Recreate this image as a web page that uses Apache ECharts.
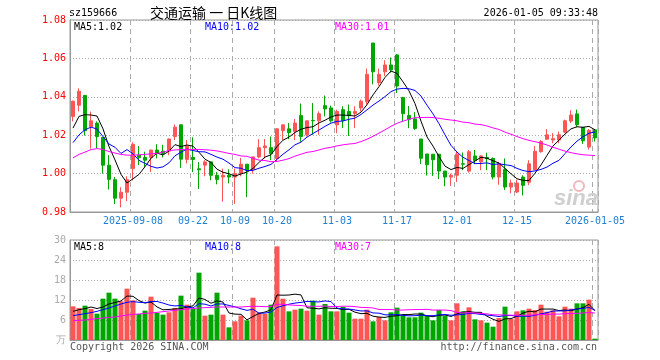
<!DOCTYPE html>
<html><head><meta charset="utf-8">
<script src="https://cdn.jsdelivr.net/npm/echarts@6/dist/echarts.min.js"></script>
<style>html,body{margin:0;padding:0;background:#fff}#c{width:660px;height:360px}</style>
</head><body><div id="c"></div>
<script>
const dates = [
'2025-08-25','2025-08-26','2025-08-27','2025-08-28','2025-08-29',
'2025-09-01','2025-09-02','2025-09-03','2025-09-04','2025-09-05',
'2025-09-08','2025-09-09','2025-09-10','2025-09-11','2025-09-12',
'2025-09-15','2025-09-16','2025-09-17','2025-09-18','2025-09-19',
'2025-09-22','2025-09-23','2025-09-24','2025-09-25','2025-09-26',
'2025-09-29','2025-09-30',
'2025-10-09','2025-10-10',
'2025-10-13','2025-10-14','2025-10-15','2025-10-16','2025-10-17',
'2025-10-20','2025-10-21','2025-10-22','2025-10-23','2025-10-24',
'2025-10-27','2025-10-28','2025-10-29','2025-10-30','2025-10-31',
'2025-11-03','2025-11-04','2025-11-05','2025-11-06','2025-11-07',
'2025-11-10','2025-11-11','2025-11-12','2025-11-13','2025-11-14',
'2025-11-17','2025-11-18','2025-11-19','2025-11-20','2025-11-21',
'2025-11-24','2025-11-25','2025-11-26','2025-11-27','2025-11-28',
'2025-12-01','2025-12-02','2025-12-03','2025-12-04','2025-12-05',
'2025-12-08','2025-12-09','2025-12-10','2025-12-11','2025-12-12',
'2025-12-15','2025-12-16','2025-12-17','2025-12-18','2025-12-19',
'2025-12-22','2025-12-23','2025-12-24','2025-12-25','2025-12-26',
'2025-12-29','2025-12-30','2025-12-31',
'2026-01-05'];

const opens = [
1.0298,1.0356,1.0407,1.0244,1.0263,1.0189,1.0044,0.9968,0.9872,0.9903,
1.0026,1.0096,1.0084,1.0084,1.0123,1.0117,1.0117,1.0193,1.0254,1.0074,
1.0084,1.0025,1.0044,1.0061,0.9991,0.9982,0.9991,0.9982,1.0000,1.0049,
1.0023,1.0087,1.0135,1.0135,1.0079,1.0224,1.0233,1.0219,1.0302,1.0202,
1.0277,1.0275,1.0354,1.0342,1.0254,1.0333,1.0324,1.0312,1.0342,1.0374,
1.0680,1.0474,1.0530,1.0566,1.0618,1.0396,1.0303,1.0285,1.0180,1.0102,
1.0101,1.0101,1.0013,0.9982,0.9991,1.0051,1.0013,1.0092,1.0061,1.0084,
1.0079,0.9982,1.0022,0.9930,0.9904,0.9982,0.9955,1.0020,1.0114,1.0179,
1.0175,1.0175,1.0216,1.0274,1.0311,1.0241,1.0138,1.0228];
const closes = [
1.0377,1.0429,1.0224,1.0275,1.0193,1.0044,0.9970,0.9872,0.9903,0.9968,
1.0153,1.0084,1.0070,1.0123,1.0105,1.0105,1.0180,1.0242,1.0075,1.0144,
1.0074,1.0020,1.0061,0.9991,0.9970,0.9991,0.9982,1.0000,1.0049,1.0017,
1.0087,1.0135,1.0144,1.0105,1.0233,1.0254,1.0214,1.0263,1.0193,1.0275,
1.0275,1.0312,1.0337,1.0275,1.0324,1.0275,1.0302,1.0324,1.0377,1.0517,
1.0530,1.0517,1.0566,1.0540,1.0456,1.0312,1.0283,1.0235,1.0080,1.0046,
1.0072,1.0013,0.9982,0.9991,1.0101,1.0049,1.0114,1.0068,1.0092,1.0078,
0.9982,1.0053,0.9930,0.9951,0.9951,0.9939,1.0051,1.0116,1.0167,1.0202,
1.0182,1.0202,1.0275,1.0305,1.0254,1.0171,1.0224,1.0186];
const lows = [
1.0272,1.0324,1.0198,1.0130,1.0132,1.0000,0.9917,0.9842,0.9824,0.9856,
0.9965,1.0044,1.0035,1.0008,1.0079,1.0084,1.0096,1.0175,1.0030,1.0053,
1.0008,0.9920,0.9986,0.9965,0.9944,0.9854,0.9949,0.9842,0.9986,0.9877,
1.0000,1.0079,1.0079,1.0070,1.0061,1.0175,1.0179,1.0175,1.0166,1.0193,
1.0202,1.0202,1.0298,1.0266,1.0211,1.0237,1.0196,1.0237,1.0324,1.0359,
1.0465,1.0459,1.0508,1.0526,1.0420,1.0270,1.0237,1.0228,1.0050,0.9990,
0.9988,0.9972,0.9934,0.9936,0.9956,1.0018,1.0005,1.0049,1.0018,1.0018,
0.9970,0.9942,0.9915,0.9898,0.9898,0.9886,0.9940,1.0018,1.0109,1.0175,
1.0158,1.0158,1.0211,1.0263,1.0242,1.0155,1.0125,1.0167];
const highs = [
1.0380,1.0444,1.0410,1.0323,1.0272,1.0190,1.0096,0.9982,0.9929,0.9986,
1.0163,1.0144,1.0114,1.0123,1.0153,1.0150,1.0182,1.0256,1.0256,1.0175,
1.0189,1.0060,1.0070,1.0061,1.0008,1.0026,1.0022,1.0026,1.0082,1.0049,
1.0087,1.0179,1.0180,1.0193,1.0237,1.0254,1.0263,1.0284,1.0365,1.0275,
1.0368,1.0324,1.0407,1.0354,1.0333,1.0351,1.0360,1.0351,1.0386,1.0547,
1.0680,1.0547,1.0590,1.0605,1.0623,1.0400,1.0352,1.0320,1.0180,1.0102,
1.0101,1.0101,1.0013,1.0000,1.0118,1.0110,1.0123,1.0123,1.0096,1.0109,
1.0084,1.0061,1.0079,0.9968,0.9968,0.9991,1.0070,1.0144,1.0175,1.0232,
1.0211,1.0219,1.0281,1.0330,1.0333,1.0241,1.0232,1.0228];
// volume, 万
const volumes = [
10.1,9.6,10.3,9.3,7.9,12.4,14.2,12.4,11.6,15.4,
11.9,7.8,8.8,13.0,8.1,7.6,8.3,9.6,13.3,10.6,
9.4,20.2,7.3,7.6,14.2,7.6,3.8,5.6,7.3,5.9,
12.7,8.3,7.8,10.6,28.1,12.4,8.6,9.1,9.4,8.8,
11.8,7.6,10.8,8.6,8.6,9.9,8.2,6.4,6.4,9.1,
5.6,6.9,5.9,8.3,9.7,7.4,6.8,6.8,8.2,7.2,
5.9,9.0,7.3,5.9,11.0,8.6,9.8,6.2,5.9,5.2,
4.0,6.6,10.0,6.3,8.6,8.9,9.4,9.0,10.6,8.5,
8.9,7.1,10.0,9.4,11.0,11.0,12.1,0.4];

const ma5Head = [1.0237,1.0298,1.0307,1.0305];
const ma10Head = [1.0161,1.0202,1.0228,1.0242,1.0232,1.0193,1.0154,1.0137,1.0105];
const ma30Head = [1.0082,1.0100,1.0112,1.0125,1.0130,1.0126,1.0115,1.0107,1.0100,1.0096,
1.0096,1.0098,1.0100,1.0103,1.0105,1.0112,1.0120,1.0123,1.0125,1.0125,
1.0126,1.0126,1.0124,1.0122,1.0118,1.0112,1.0105,1.0100,1.0092];
const vma5Head = [8.6,9.1,9.4,9.9];
const vma10Head = [7.3,7.6,7.9,8.2,8.6,9.1,9.6,10.2,10.8];
const vma30Head = [5.8,5.9,6.0,6.2,6.4,6.6,6.8,6.9,7.2,7.5,7.7,7.8,8.0,8.1,8.3,8.5,8.7,8.9,9.1,9.3,
9.4,9.6,9.7,9.8,9.9,9.9,9.9,9.9,9.9];
// legend read-outs of the volume panel, as printed
const volLegendValues = ['8','8','7'];

const tickDates = ['2025-09-08','2025-09-22','2025-10-09','2025-10-20','2025-11-03','2025-11-17','2025-12-01','2025-12-15','2026-01-05'];
const tickLabels = ['2025-09-08','09-22','10-09','10-20','11-03','11-17','12-01','12-15','2026-01-05'];
const priceTicks = [0.98,1.08,0.02];
const volTicks = [0,30,6];

const RED = '#ff5555', GREEN = '#00a600';
function ma(vals, n, head) {
  return vals.map((v, i) => {
    if (i < n - 1) return head[i];
    let s = 0; for (let k = i - n + 1; k <= i; k++) s += vals[k];
    return +(s / n).toFixed(4);
  });
}
const ma5 = ma(closes, 5, ma5Head), ma10 = ma(closes, 10, ma10Head), ma30 = ma(closes, 30, ma30Head);
const vma5 = ma(volumes, 5, vma5Head), vma10 = ma(volumes, 10, vma10Head), vma30 = ma(volumes, 30, vma30Head);
const last = dates.length - 1;
const kdata = dates.map((d, i) => [opens[i], closes[i], lows[i], highs[i]]);
const vdata = volumes.map((v, i) => ({value: v, itemStyle: {color: closes[i] >= opens[i] ? RED : GREEN}}));
const isTick = (i) => tickDates.indexOf(dates[i]) >= 0;
const MONO = 'DejaVu Sans Mono';

const chart = echarts.init(document.getElementById('c'), null, {renderer: 'canvas'});
const lineS = (name, data, color, xi) => ({type: 'line', name, data, xAxisIndex: xi, yAxisIndex: xi,
  symbol: 'none', smooth: false, lineStyle: {color, width: 1}, itemStyle: {color}, z: 5, animation: false});
const txt = (x, y, text, color, size, font, align) => ({type: 'text', x, y,
  style: {text, fill: color, font: (size || 10) + 'px "' + (font || MONO) + '"', textAlign: align || 'left', textVerticalAlign: 'middle'}});

chart.setOption({
  animation: false,
  backgroundColor: '#fff',
  grid: [
    {left: 70, right: 62, top: 20, height: 192, show: true, borderColor: '#999', borderWidth: 1, backgroundColor: 'transparent'},
    {left: 70, right: 62, top: 240, height: 100, show: true, borderColor: '#999', borderWidth: 1, backgroundColor: 'transparent'}
  ],
  xAxis: [
    {type: 'category', data: dates, gridIndex: 0, boundaryGap: true,
     axisLine: {lineStyle: {color: '#999'}}, axisTick: {show: false},
     axisLabel: {interval: (i) => isTick(i), formatter: (v) => tickLabels[tickDates.indexOf(v)],
       color: '#1f7fd6', fontFamily: MONO, fontSize: 10, margin: 4},
     splitLine: {show: true, interval: (i) => isTick(i), lineStyle: {color: '#aaa', type: [5, 4], width: 1}}},
    {type: 'category', data: dates, gridIndex: 1, boundaryGap: true,
     axisLine: {lineStyle: {color: '#999'}}, axisTick: {show: false}, axisLabel: {show: false},
     splitLine: {show: true, interval: (i) => isTick(i), lineStyle: {color: '#aaa', type: [5, 4], width: 1}}}
  ],
  yAxis: [
    {type: 'value', gridIndex: 0, min: priceTicks[0], max: priceTicks[1], interval: priceTicks[2], scale: true,
     axisLine: {show: true, lineStyle: {color: '#999'}}, axisTick: {show: false},
     axisLabel: {color: '#ff0000', fontFamily: MONO, fontSize: 10, margin: 4, formatter: (v) => v.toFixed(2)},
     splitLine: {show: true, lineStyle: {color: '#aaa', type: [1, 2]}}},
    {type: 'value', gridIndex: 1, min: volTicks[0], max: volTicks[1], interval: volTicks[2],
     axisLine: {show: true, lineStyle: {color: '#999'}}, axisTick: {show: false},
     axisLabel: {color: '#aaa', fontFamily: MONO, fontSize: 10, margin: 4, formatter: (v) => v === 0 ? '万' : String(v)},
     splitLine: {show: true, lineStyle: {color: '#aaa', type: [1, 2]}}}
  ],
  series: [
    {type: 'candlestick', data: kdata, xAxisIndex: 0, yAxisIndex: 0, barWidth: 4,
     itemStyle: {color: RED, color0: GREEN, borderColor: RED, borderColor0: GREEN, borderWidth: 1}, z: 3},
    lineS('MA5', ma5, '#000000', 0), lineS('MA10', ma10, '#0000ff', 0), lineS('MA30', ma30, '#ff00ff', 0),
    {type: 'bar', data: vdata, xAxisIndex: 1, yAxisIndex: 1, barWidth: 5, z: 3},
    lineS('VMA5', vma5, '#000000', 1), lineS('VMA10', vma10, '#0000ff', 1), lineS('VMA30', vma30, '#ff00ff', 1)
  ],
  graphic: [
    txt(69, 13, 'sz159666', '#000', 10),
    txt(150, 13, '交通运输 一 日K线图', '#000', 14, 'Noto Sans CJK SC'),
    txt(598, 13, '2026-01-05 09:33:48', '#000', 10, MONO, 'right'),
    txt(74, 27, 'MA5:' + ma5[last].toFixed(2), '#000', 10),
    txt(205, 27, 'MA10:' + ma10[last].toFixed(2), '#0000ff', 10),
    txt(335, 27, 'MA30:' + ma30[last].toFixed(2), '#ff00ff', 10),
    txt(74, 247, 'MA5:' + volLegendValues[0], '#000', 10),
    txt(205, 247, 'MA10:' + volLegendValues[1], '#0000ff', 10),
    txt(335, 247, 'MA30:' + volLegendValues[2], '#ff00ff', 10),
    txt(70, 347, 'Copyright 2026 SINA.COM', '#555', 10),
    txt(597, 347, 'http://finance.sina.com.cn', '#555', 10, MONO, 'right'),
    {type: 'circle', shape: {cx: 579, cy: 186, r: 5}, style: {fill: 'none', stroke: '#f2b8b8', lineWidth: 2}, z: 1},
    {type: 'text', x: 554, y: 199, z: 1, style: {text: 'sina', fill: '#cfcfcf', font: 'italic bold 22px "Liberation Sans"', textVerticalAlign: 'middle'}}
  ]
});
</script></body></html>
